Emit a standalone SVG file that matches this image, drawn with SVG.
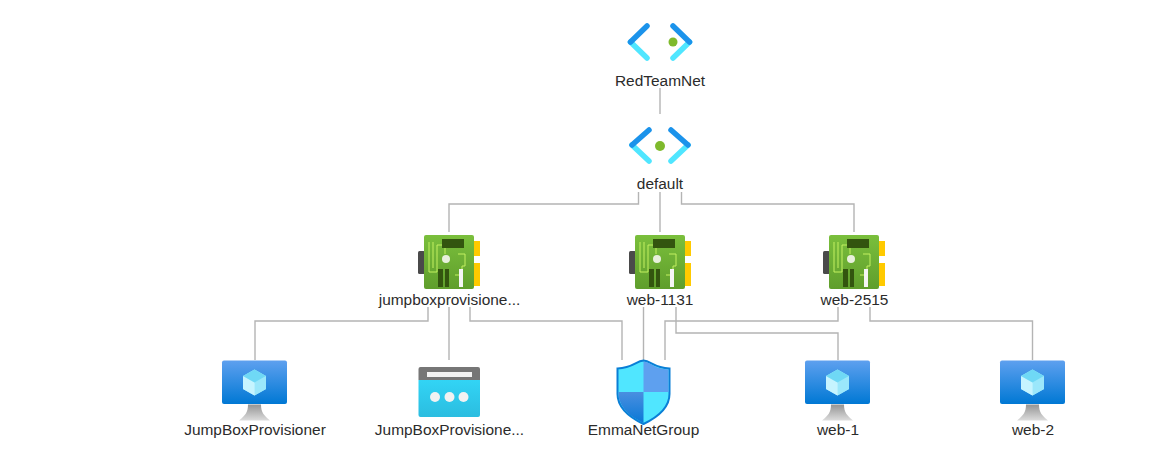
<svg xmlns="http://www.w3.org/2000/svg" width="1149" height="462" viewBox="0 0 1149 462">
<style>
text{font-family:"Liberation Sans",Arial,sans-serif;font-size:15.45px;fill:#2b2b2b;text-anchor:middle}
.c{fill:none;stroke:#b4b4b4;stroke-width:1.4}
.cd{stroke-width:5.500;stroke-linecap:round;fill:none}
</style>
<defs>
<linearGradient id="scr" x1="0" y1="0" x2="0" y2="1"><stop offset="0" stop-color="#5ea0ef"/><stop offset="1" stop-color="#0078d4"/></linearGradient>
<linearGradient id="std" x1="0" y1="0" x2="0" y2="1"><stop offset="0" stop-color="#949494"/><stop offset="1" stop-color="#dcdcdc"/></linearGradient>
<linearGradient id="nicg" x1="0" y1="0" x2="0" y2="1"><stop offset="0" stop-color="#7abf3c"/><stop offset="1" stop-color="#5f9e2c"/></linearGradient>
<linearGradient id="app" x1="0" y1="0" x2="0" y2="1"><stop offset="0" stop-color="#32d4f5"/><stop offset="1" stop-color="#2bbde0"/></linearGradient>
<linearGradient id="sh" x1="0" y1="0" x2="0" y2="1"><stop offset="0" stop-color="#4a8fe0"/><stop offset="1" stop-color="#0a78d6"/></linearGradient>
<g id="nic">
<rect x="0" y="15" width="7" height="23" rx="1.500" fill="#4a4a4a"/>
<rect x="56" y="5" width="6" height="15" fill="#ffca00"/>
<rect x="56" y="27" width="6" height="23" fill="#ffca00"/>
<rect x="6" y="-1" width="50" height="54" rx="2" fill="url(#nicg)"/>
<path d="M11 6V36H19V9H40M15 6V32M27 18V9M40 18H47V30H44V39H37" fill="none" stroke="#c3f060" stroke-width="1"/>
<rect x="24" y="3" width="22" height="9" fill="#33550f"/>
<circle cx="28" cy="23" r="4" fill="#e8f0dc"/>
<rect x="20" y="33" width="5" height="18" fill="#33550f"/>
<rect x="27" y="33" width="4" height="18" fill="#33550f"/>
<rect x="41" y="33" width="4" height="18" fill="#f5f5f5"/>
</g>
<g id="vm">
<path d="M26 44H39C39 52 42 55 48 60H17C23 55 26 52 26 44Z" fill="url(#std)"/>
<rect x="0" y="0" width="65" height="43.500" rx="2" fill="url(#scr)"/>
<path d="M32.500 9L44 15.500V28.500L32.500 35L21 28.500V15.500Z" fill="#a8eefc"/>
<path d="M32.500 22L44 15.500V28.500L32.500 35Z" fill="#9be7fb"/>
<path d="M32.500 22L21 15.500V28.500L32.500 35Z" fill="#c6f4ff"/>
<path d="M21 15.500L32.500 9L44 15.500L32.500 22Z" fill="#6fd8f5"/>
</g>
</defs>
<rect width="1149" height="462" fill="#ffffff"/>
<g id="connectors">
<path class="c" d="M660 88V114"/>
<path class="c" d="M638.500 192V204H449V232"/>
<path class="c" d="M660 192V232"/>
<path class="c" d="M681.500 192V204H854V232"/>
<path class="c" d="M428 307V321H255V360"/>
<path class="c" d="M449 307V360"/>
<path class="c" d="M470 307V321H622V360"/>
<path class="c" d="M643.500 307V360"/>
<path class="c" d="M676 307V333H838V360"/>
<path class="c" d="M838 307V321H665V360"/>
<path class="c" d="M870 307V321H1032.500V360"/>
</g>
<g id="node-redteamnet">
<path class="cd" stroke="#50e6ff" d="M630.500 42L647 58M689.500 42L673 58"/>
<path class="cd" stroke="#1b93eb" d="M647 26L630.500 42M673 26L689.500 42"/>
<circle cx="673" cy="42" r="4.500" fill="#7fba2c"/>
<text x="660" y="86">RedTeamNet</text>
</g>
<g id="node-default">
<path class="cd" stroke="#50e6ff" d="M632 145L649 161M688 145L671 161"/>
<path class="cd" stroke="#1b93eb" d="M649 130L632 145M671 130L688 145"/>
<circle cx="660" cy="146" r="5" fill="#7fba2c"/>
<text x="660" y="189">default</text>
</g>
<g id="node-jumpbox-nic">
<use href="#nic" x="418" y="236"/>
<text x="449.500" y="305">jumpboxprovisione...</text>
</g>
<g id="node-web-1131">
<use href="#nic" x="629" y="236"/>
<text x="660" y="305">web-1131</text>
</g>
<g id="node-web-2515">
<use href="#nic" x="823" y="236"/>
<text x="854.500" y="305">web-2515</text>
</g>
<g id="node-jumpboxprovisioner">
<use href="#vm" x="222" y="360.500"/>
<text x="255" y="435">JumpBoxProvisioner</text>
</g>
<g id="node-jumpboxprovisioner-ext">
<path d="M418.500 380H480V415a2 2 0 0 1-2 2H420.500a2 2 0 0 1-2-2Z" fill="url(#app)"/>
<path d="M418.500 380V369a2 2 0 0 1 2-2H478a2 2 0 0 1 2 2V380Z" fill="#767676"/>
<rect x="427" y="372" width="45" height="5" fill="#f2f2f2"/>
<circle cx="435" cy="397" r="5" fill="#f2f2f2"/>
<circle cx="449.500" cy="397" r="5" fill="#f2f2f2"/>
<circle cx="463.500" cy="397" r="5" fill="#f2f2f2"/>
<text x="449.500" y="435">JumpBoxProvisione...</text>
</g>
<g id="node-emmanetgroup">
<path d="M643.500 360.500C651 361 654 368 669.500 368.500V394C669.500 408 656 418 643.500 424C631 418 617.500 408 617.500 394V368.500C633 368 636 361 643.500 360.500Z" fill="#50e6ff" stroke="#0a7fd6" stroke-width="2"/>
<path d="M643.500 361.500C651 362 654 369 668.500 369.500V392H643.500Z" fill="#5ea0ef"/>
<path d="M618.500 392H643.500V423C631 417 619 408 618.500 394Z" fill="url(#sh)"/>
<text x="643.500" y="435">EmmaNetGroup</text>
</g>
<g id="node-web-1">
<use href="#vm" x="805" y="360.500"/>
<text x="838" y="435">web-1</text>
</g>
<g id="node-web-2">
<use href="#vm" x="1000" y="360.500"/>
<text x="1033" y="435">web-2</text>
</g>
</svg>
